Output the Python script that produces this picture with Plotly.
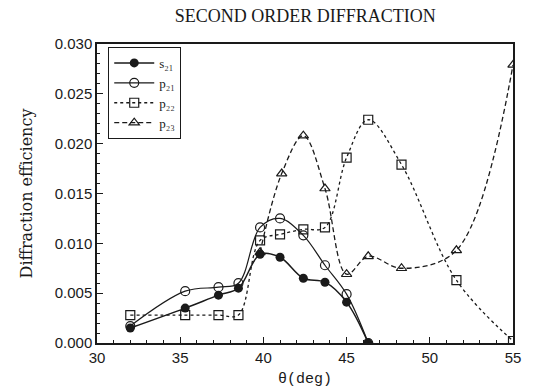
import plotly.graph_objects as go

# Data
s21_x = [32.0, 35.3, 37.3, 38.5, 39.8, 41.0, 42.4, 43.7, 45.0, 46.3]
s21_y = [0.0015, 0.0035, 0.0048, 0.0055, 0.0089, 0.0086, 0.0065, 0.0061, 0.0041, 0.0000]

p21_x = [32.0, 35.3, 37.3, 38.5, 39.8, 41.0, 42.4, 43.7, 45.0, 46.3]
p21_y = [0.0017, 0.0052, 0.0056, 0.0060, 0.0116, 0.0125, 0.0108, 0.0078, 0.0049, 0.0000]

p22_x = [32.0, 35.3, 37.3, 38.5, 39.8, 41.0, 42.4, 43.7, 45.0, 46.3, 48.3, 51.6, 55.0]
p22_y = [0.0028, 0.0028, 0.0028, 0.0028, 0.0103, 0.0109, 0.0114, 0.0116, 0.0186, 0.0224, 0.0179, 0.0063, 0.0002]

p23_x = [39.8, 41.1, 42.4, 43.7, 45.0, 46.3, 48.3, 51.6, 55.0]
p23_y = [0.0091, 0.0170, 0.0208, 0.0155, 0.0069, 0.0087, 0.0075, 0.0093, 0.0279]

x_ticks = [30, 35, 40, 45, 50, 55]
y_ticks = [0.000, 0.005, 0.010, 0.015, 0.020, 0.025, 0.030]

ink = "#1a1a1a"

fig = go.Figure()
fig.add_trace(go.Scatter(
    x=s21_x, y=s21_y, name="s₂₁", mode="lines+markers",
    line=dict(color=ink, width=1.5, shape="spline", smoothing=1.0),
    marker=dict(symbol="circle", size=9, color=ink)))
fig.add_trace(go.Scatter(
    x=p21_x, y=p21_y, name="p₂₁", mode="lines+markers",
    line=dict(color=ink, width=1.2, shape="spline", smoothing=1.0),
    marker=dict(symbol="circle-open", size=9, color=ink, line=dict(width=1.2))))
fig.add_trace(go.Scatter(
    x=p22_x, y=p22_y, name="p₂₂", mode="lines+markers",
    line=dict(color=ink, width=1.3, dash="dot", shape="spline", smoothing=1.0),
    marker=dict(symbol="square-open", size=9, color=ink, line=dict(width=1.2))))
fig.add_trace(go.Scatter(
    x=p23_x, y=p23_y, name="p₂₃", mode="lines+markers",
    line=dict(color=ink, width=1.3, dash="5px,3px", shape="spline", smoothing=1.0),
    marker=dict(symbol="triangle-up-open", size=9, color=ink, line=dict(width=1.2))))

fig.update_layout(
    width=560, height=390,
    margin=dict(l=97, r=47, t=44, b=47),
    paper_bgcolor="white", plot_bgcolor="white",
    title=dict(text="SECOND ORDER DIFFRACTION", x=0.545, xanchor="center", y=0.975, yanchor="top",
               font=dict(family="Liberation Serif", size=18, color=ink)),
    showlegend=True,
    legend=dict(x=0.027, y=0.99, xanchor="left", yanchor="top",
                bgcolor="white", bordercolor=ink, borderwidth=1,
                font=dict(family="Liberation Serif", size=13, color=ink),
                tracegroupgap=0, itemwidth=40),
    font=dict(family="Liberation Sans", color=ink),
)
fig.update_xaxes(
    range=[30, 55], tickvals=x_ticks, ticktext=[str(v) for v in x_ticks],
    ticks="inside", ticklen=6, tickwidth=1, tickcolor=ink,
    minor=dict(dtick=1, ticks="inside", ticklen=3, tickcolor=ink),
    showline=True, linecolor=ink, linewidth=1.5, mirror=True, showgrid=False, zeroline=False,
    automargin=False,
    tickfont=dict(family="Liberation Sans", size=15, color=ink),
    title=dict(text="θ(deg)", font=dict(family="Liberation Mono", size=15, color=ink), standoff=8),
)
fig.update_yaxes(
    range=[0, 0.030], tickvals=y_ticks, ticktext=[f"{v:.3f}" for v in y_ticks],
    ticks="inside", ticklen=6, tickwidth=1, tickcolor=ink,
    minor=dict(dtick=0.001, ticks="inside", ticklen=3, tickcolor=ink),
    showline=True, linecolor=ink, linewidth=1.5, mirror=True, showgrid=False, zeroline=False,
    automargin=False,
    tickfont=dict(family="Liberation Sans", size=15, color=ink),
    title=dict(text="Diffraction efficiency", font=dict(family="DejaVu Serif", size=16, color=ink), standoff=18),
)

fig.write_html("out.html")
